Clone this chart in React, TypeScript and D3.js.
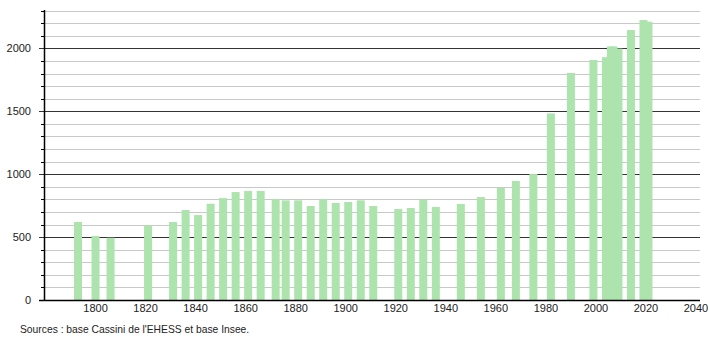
import React from "react";
import * as d3 from "d3";

const years = [
  1793, 1800, 1806, 1821, 1831, 1836, 1841, 1846, 1851, 1856, 1861, 1866, 1872, 1876, 1881, 1886,
  1891, 1896, 1901, 1906, 1911, 1921, 1926, 1931, 1936, 1946, 1954, 1962, 1968, 1975, 1982, 1990,
  1999, 2004, 2006, 2007, 2009, 2014, 2019, 2021,
];
const population = [
  620, 508, 495, 593, 620, 715, 675, 765, 810, 858, 866, 866, 802, 792, 792, 747,
  802, 771, 779, 792, 747, 723, 731, 795, 739, 763, 818, 892, 946, 1001, 1483, 1804,
  1907, 1930, 2015, 2015, 1998, 2145, 2225, 2212,
];
const xTicks = [1800, 1820, 1840, 1860, 1880, 1900, 1920, 1940, 1960, 1980, 2000, 2020, 2040];
const yMajor = [0, 500, 1000, 1500, 2000];
const sourceText = "Sources : base Cassini de l'EHESS et base Insee.";

const W = 710;
const H = 340;
const axisX = 44;
const axisRight = 700;
const y0 = 300;

export default function App() {
  const x = d3.scaleLinear().domain([1780, 2040]).range([45.5, 696]);
  const y = d3.scaleLinear().domain([0, 2300]).range([y0, 10.6]);
  const minor = d3.range(100, 2301, 100).filter((v) => v % 500 !== 0);
  const barW = 8;
  const font = "'Liberation Sans', Arial, sans-serif";

  return (
    <div style={{ position: "absolute", left: 0, top: 0 }}>
      <svg width={W} height={H} style={{ display: "block", background: "#fff" }}>
        <rect x={0} y={0} width={W} height={H} fill="#fff" />
        {minor.map((v) => (
          <g key={"m" + v}>
            <line x1={axisX} x2={axisRight} y1={Math.round(y(v)) + 0.5} y2={Math.round(y(v)) + 0.5} stroke="#c8c8c8" strokeWidth={1} />
            <line x1={41} x2={axisX} y1={Math.round(y(v)) + 0.5} y2={Math.round(y(v)) + 0.5} stroke="#000" strokeWidth={1} />
          </g>
        ))}
        {yMajor.filter((v) => v > 0).map((v) => (
          <line key={"M" + v} x1={39} x2={axisRight} y1={Math.round(y(v)) + 0.5} y2={Math.round(y(v)) + 0.5} stroke="#333" strokeWidth={1} />
        ))}
        {years.map((yr, i) => (
          <rect
            key={yr}
            x={x(yr) - barW / 2}
            y={y(population[i])}
            width={barW}
            height={y0 - y(population[i])}
            fill="#ade3ad"
          />
        ))}
        <line x1={axisX + 0.5} x2={axisX + 0.5} y1={10} y2={y0 + 1} stroke="#000" strokeWidth={1.5} />
        <line x1={39} x2={axisRight} y1={y0 + 0.5} y2={y0 + 0.5} stroke="#000" strokeWidth={1.5} />
        {yMajor.map((v) => (
          <text key={"yl" + v} x={31} y={y(v)} dy="0.35em" textAnchor="end" fontFamily={font} fontSize={11} fill="#222">
            {v}
          </text>
        ))}
        {xTicks.map((t) => (
          <text key={"xl" + t} x={x(t)} y={308} dy="0.35em" textAnchor="middle" fontFamily={font} fontSize={11} fill="#222">
            {t}
          </text>
        ))}
        <text x={20} y={329} dy="0.35em" fontFamily={font} fontSize={10.3} fill="#222">
          {sourceText}
        </text>
      </svg>
    </div>
  );
}
